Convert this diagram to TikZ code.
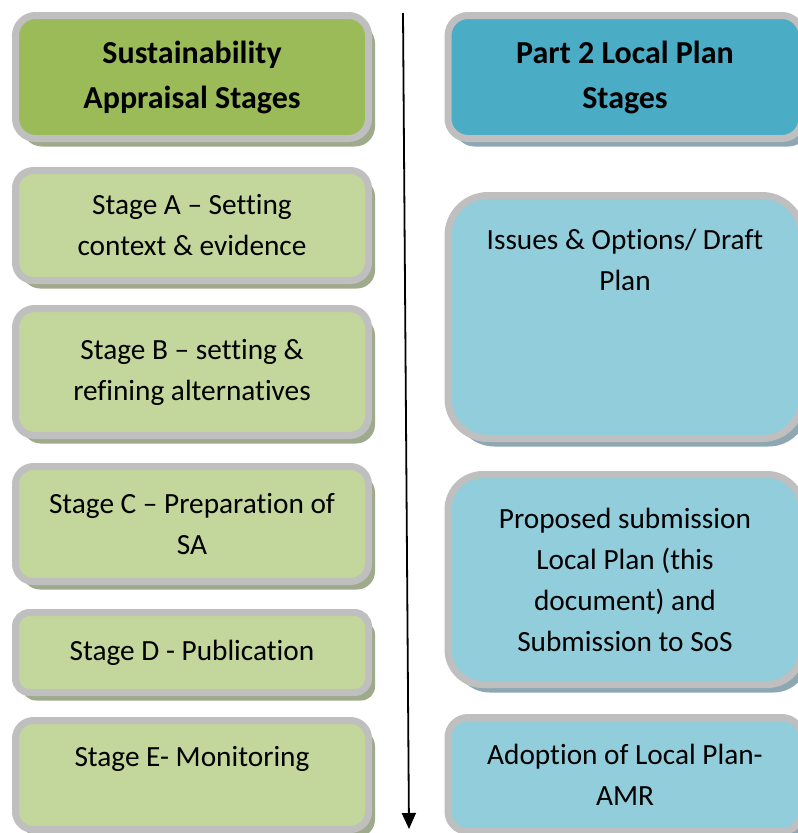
\documentclass[tikz,border=0pt]{standalone}
\usepackage{fontspec}
\setmainfont[Ligatures=NoCommon]{Carlito}
\usetikzlibrary{shadows,arrows.meta}

\definecolor{hdrgreen}{HTML}{9BBB59}
\definecolor{stagegreen}{HTML}{C3D69B}
\definecolor{hdrblue}{HTML}{4BACC6}
\definecolor{stageblue}{HTML}{92CDDC}
\definecolor{rimgrey}{HTML}{BFBFBF}
\definecolor{greenshade}{HTML}{9FA98B}
\definecolor{blueshade}{HTML}{8DA8B2}

\tikzset{
  panel/.style={rectangle, draw=rimgrey, line width=7pt, inner sep=0pt, outer sep=0pt,
    align=center, text=black, font=\fontsize{29.3}{41}\selectfont},
  saside/.style={panel, minimum width=353pt,
    drop shadow={shadow xshift=6.5pt, shadow yshift=-8pt, fill=greenshade, opacity=1}},
  lpside/.style={panel, minimum width=354pt,
    drop shadow={shadow xshift=6.5pt, shadow yshift=-8pt, fill=blueshade, opacity=1}},
  headtext/.style={font=\fontsize{32}{45}\selectfont\bfseries},
  bodytext/.style={inner sep=0pt, align=center, text=black, font=\fontsize{29.3}{41}\selectfont},
  flow/.style={line width=1.8pt, -{Triangle[length=16pt,width=14pt]}}
}

\begin{document}
\begin{tikzpicture}[x=1pt, y=-1pt]
  \useasboundingbox (0,0) rectangle (798,833);
  \clip (0,0) rectangle (798,833);

  % timeline arrow between the two columns
  \coordinate (flowtop) at (403,13);
  \coordinate (flowend) at (409,829);
  \draw[flow] (flowtop) -- (flowend);

  % sustainability appraisal column
  \node[saside, fill=hdrgreen, headtext, minimum height=123pt, rounded corners=20pt]
    (sahead) at (192,77) {Sustainability\\Appraisal Stages};
  \node[saside, fill=stagegreen, minimum height=110pt, rounded corners=18pt]
    (stageA) at (192,225.5) {Stage A -- Setting\\context \& evidence};
  \node[saside, fill=stagegreen, minimum height=127pt, rounded corners=19pt]
    (stageB) at (192,372) {Stage B -- setting \&\\refining alternatives};
  \node[saside, fill=stagegreen, minimum height=115pt, rounded corners=18pt]
    (stageC) at (192,524) {Stage C -- Preparation of\\SA};
  \node[saside, fill=stagegreen, minimum height=80pt, rounded corners=14pt]
    (stageD) at (192,652.5) {Stage D - Publication};
  \node[saside, fill=stagegreen, minimum height=109pt, rounded corners=18pt]
    (stageE) at (192,775) {};
  \node[bodytext] (stageEtext) at (192,759) {Stage E- Monitoring};

  % local plan column
  \node[lpside, fill=hdrblue, headtext, minimum height=123pt, rounded corners=20pt]
    (lphead) at (625,77) {Part 2 Local Plan\\Stages};
  \node[lpside, fill=stageblue, minimum height=243pt, rounded corners=40pt]
    (issues) at (625,317) {};
  \node[bodytext] (issuestext) at (625,260) {Issues \& Options/ Draft\\Plan};
  \node[lpside, fill=stageblue, minimum height=210pt, rounded corners=35pt]
    (proposed) at (625,579.5) {Proposed submission\\Local Plan (this\\document) and\\Submission to SoS};
  \node[lpside, fill=stageblue, minimum height=114pt, rounded corners=20pt]
    (adoption) at (625,774.5) {Adoption of Local Plan-\\AMR};
\end{tikzpicture}
\end{document}
